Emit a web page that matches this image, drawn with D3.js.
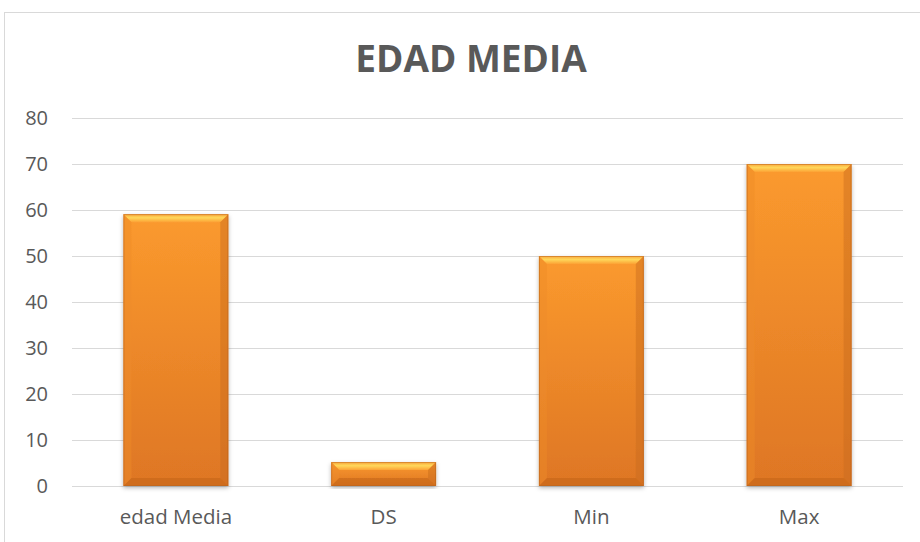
<!DOCTYPE html>
<html>
<head>
<meta charset="utf-8">
<script src="https://cdn.jsdelivr.net/npm/d3@7"></script>
<style>
  body { margin: 0; background: #fff; }
  text { font-family: "Open Sans", "Liberation Sans", sans-serif; }
</style>
</head>
<body>
<div id="chart"></div>
<script>
// data
const categories = ["edad Media", "DS", "Min", "Max"];
const values = [59.1, 5.2, 50, 70];
const yTicks = [0, 10, 20, 30, 40, 50, 60, 70, 80];

const W = 920, H = 542;
const margin = { top: 118, right: 17, bottom: 56, left: 72 },
    width = W - margin.left - margin.right,
    height = H - margin.top - margin.bottom;

const svg = d3.select("#chart")
    .append("svg")
    .attr("width", W)
    .attr("height", H);

// outer chart border (runs off right/bottom edge)
svg.append("rect")
    .attr("x", 4.5).attr("y", 12.5)
    .attr("width", W + 10).attr("height", H + 10)
    .attr("fill", "#fff")
    .attr("stroke", "#d9d9d9")
    .attr("stroke-width", 1);

const defs = svg.append("defs");
const grad = defs.append("linearGradient")
    .attr("id", "barFill").attr("x1", 0).attr("y1", 0).attr("x2", 0).attr("y2", 1);
grad.append("stop").attr("offset", "0%").attr("stop-color", "#fb9a2e");
grad.append("stop").attr("offset", "100%").attr("stop-color", "#de7624");

const topGrad = defs.append("linearGradient")
    .attr("id", "topBevel").attr("x1", 0).attr("y1", 0).attr("x2", 0).attr("y2", 1);
topGrad.append("stop").attr("offset", "0%").attr("stop-color", "#f9a83c");
topGrad.append("stop").attr("offset", "45%").attr("stop-color", "#ffd75a");
topGrad.append("stop").attr("offset", "100%").attr("stop-color", "#fca235");

const filter = defs.append("filter").attr("id", "shadow")
    .attr("x", "-10%").attr("y", "-10%").attr("width", "120%").attr("height", "120%");
filter.append("feDropShadow")
    .attr("dx", 0).attr("dy", 2).attr("stdDeviation", 2)
    .attr("flood-color", "#000").attr("flood-opacity", 0.28);

const g = svg.append("g")
    .attr("transform", `translate(${margin.left},${margin.top})`);

const x = d3.scaleBand()
    .domain(categories)
    .range([0, width])
    .paddingInner(0.495)
    .paddingOuter(0.2475);

const y = d3.scaleLinear()
    .domain([0, 80])
    .range([height, 0]);

// gridlines
g.selectAll(".grid")
    .data(yTicks)
    .join("line")
    .attr("x1", 0).attr("x2", width)
    .attr("y1", d => Math.round(y(d)) + 0.5)
    .attr("y2", d => Math.round(y(d)) + 0.5)
    .attr("stroke", "#d9d9d9")
    .attr("stroke-width", 1);

// y axis labels
const yAxis = g.append("g")
    .call(d3.axisLeft(y).tickValues(yTicks).tickSize(0).tickPadding(24));
yAxis.select(".domain").remove();
yAxis.selectAll("text")
    .attr("fill", "#595959")
    .style("font-size", "20px");

// x axis labels
const xAxis = g.append("g")
    .attr("transform", `translate(0,${height})`)
    .call(d3.axisBottom(x).tickSize(0));
xAxis.select(".domain").remove();
xAxis.selectAll("text")
    .attr("y", 38)
    .attr("dy", null)
    .attr("fill", "#595959")
    .style("font-size", "20.5px");

// bars with bevel
const bev = 8;
const bars = g.selectAll(".bar")
    .data(categories.map((c, i) => ({ c, v: values[i] })))
    .join("g")
    .attr("class", "bar")
    .attr("filter", "url(#shadow)");

bars.append("rect")
    .attr("x", d => x(d.c))
    .attr("y", d => y(d.v))
    .attr("width", x.bandwidth())
    .attr("height", d => y(0) - y(d.v))
    .attr("fill", "url(#barFill)");

function bevelSize(d) {
    return Math.min(bev, (y(0) - y(d.v)) / 2);
}

// top bevel
bars.append("polygon")
    .attr("points", d => {
        const x0 = x(d.c), x1 = x0 + x.bandwidth(), y0 = y(d.v), b = bevelSize(d);
        return [[x0, y0], [x1, y0], [x1 - b, y0 + b], [x0 + b, y0 + b]].join(" ");
    })
    .attr("fill", "url(#topBevel)");

// left bevel
bars.append("polygon")
    .attr("points", d => {
        const x0 = x(d.c), y0 = y(d.v), y1 = y(0), b = bevelSize(d);
        return [[x0, y0], [x0 + b, y0 + b], [x0 + b, y1 - b], [x0, y1]].join(" ");
    })
    .attr("fill", "#ee8c2a")
    .attr("opacity", 0.45);

// right bevel
bars.append("polygon")
    .attr("points", d => {
        const x1 = x(d.c) + x.bandwidth(), y0 = y(d.v), y1 = y(0), b = bevelSize(d);
        return [[x1, y0], [x1 - b, y0 + b], [x1 - b, y1 - b], [x1, y1]].join(" ");
    })
    .attr("fill", "#c86a1c")
    .attr("opacity", 0.45);

// bottom bevel
bars.append("polygon")
    .attr("points", d => {
        const x0 = x(d.c), x1 = x0 + x.bandwidth(), y1 = y(0), b = bevelSize(d);
        return [[x0, y1], [x1, y1], [x1 - b, y1 - b], [x0 + b, y1 - b]].join(" ");
    })
    .attr("fill", "#c5661b")
    .attr("opacity", 0.6);

// outline
bars.append("rect")
    .attr("x", d => x(d.c) + 0.5)
    .attr("y", d => y(d.v) + 0.5)
    .attr("width", x.bandwidth() - 1)
    .attr("height", d => y(0) - y(d.v) - 1)
    .attr("fill", "none")
    .attr("stroke", "#b8621e")
    .attr("stroke-opacity", 0.5);

// title
svg.append("text")
    .attr("x", 471)
    .attr("y", 72)
    .attr("text-anchor", "middle")
    .attr("fill", "#595959")
    .style("font-size", "37px")
    .style("font-weight", "bold")
    .text("EDAD MEDIA");
</script>
</body>
</html>
